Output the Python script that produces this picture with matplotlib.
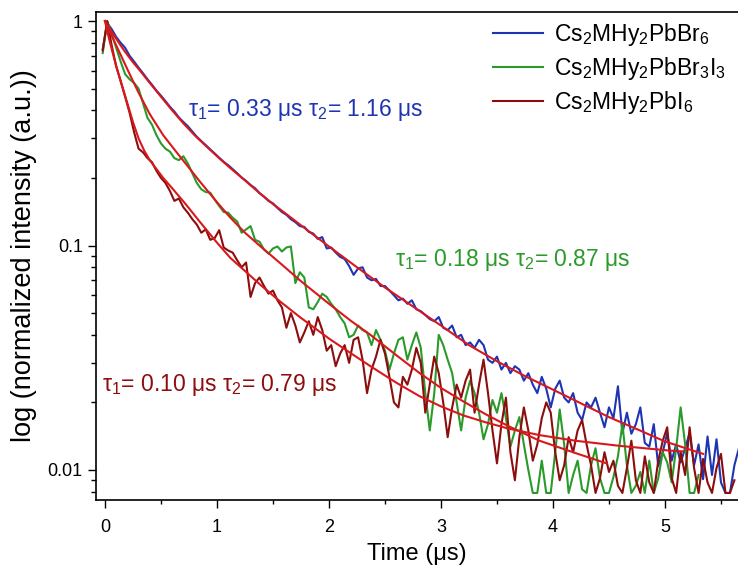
"""TRPL decay of the three Cs2MHy2PbX6 films with bi-exponential fits (log scale)."""

import matplotlib
matplotlib.use("Agg")
import matplotlib.pyplot as plt
import numpy as np

plt.rcParams["font.family"] = ["Liberation Sans", "DejaVu Sans"]
plt.rcParams["mathtext.fontset"] = "custom"
plt.rcParams["mathtext.rm"] = "Liberation Sans"
plt.rcParams["mathtext.it"] = "Liberation Sans:italic"

# time base of the TCSPC traces (us): first channel and channel width
T_START = -0.02
T_STEP = 0.04

LABELS = [r"Cs$_2$MHy$_2$PbBr$_6$", r"Cs$_2$MHy$_2$PbBr$_3$I$_3$", r"Cs$_2$MHy$_2$PbI$_6$"]
COLORS = ["#1d35b5", "#2a9a2a", "#8c0d0d"]
FIT_COLOR = "#d9181c"

# normalized counts, one value per channel
br6 = [
    0.75, 0.98, 0.92, 0.85, 0.80, 0.76, 0.70, 0.66, 0.62, 0.585,
    0.55, 0.52, 0.49, 0.465, 0.44, 0.415, 0.395, 0.372, 0.355, 0.34,
    0.322, 0.305, 0.292, 0.28, 0.268, 0.257, 0.246, 0.236, 0.228, 0.219,
    0.21, 0.201, 0.194, 0.186, 0.18, 0.171, 0.165, 0.158, 0.154, 0.147,
    0.141, 0.137, 0.131, 0.127, 0.122, 0.121, 0.115, 0.113, 0.107, 0.109,
    0.097, 0.098, 0.093, 0.089, 0.087, 0.081, 0.074, 0.079, 0.080, 0.072,
    0.070, 0.071, 0.066, 0.066, 0.063, 0.060, 0.057, 0.058, 0.055, 0.057,
    0.052, 0.051, 0.049, 0.047, 0.046, 0.048, 0.043, 0.042, 0.044, 0.039,
    0.040, 0.036, 0.037, 0.035, 0.038, 0.036, 0.031, 0.030, 0.032, 0.028,
    0.030, 0.027, 0.029, 0.028, 0.025, 0.027, 0.024, 0.022, 0.026, 0.023,
    0.019, 0.023, 0.025, 0.021, 0.020, 0.022, 0.018, 0.0167, 0.020, 0.019,
    0.021, 0.018, 0.0155, 0.019, 0.017, 0.0236, 0.0146, 0.018, 0.0145, 0.016,
    0.019, 0.0132, 0.0127, 0.016, 0.0104, 0.012, 0.0146, 0.011, 0.013, 0.0108,
    0.0125, 0.0146, 0.0105, 0.013, 0.0091, 0.0141, 0.0095, 0.0137, 0.0088, 0.0079,
    0.0079, 0.0105, 0.0125,
]
br3i3 = [
    0.72, 1.0, 0.88, 0.76, 0.66, 0.58, 0.55, 0.53, 0.50, 0.43,
    0.37, 0.345, 0.31, 0.285, 0.27, 0.262, 0.245, 0.24, 0.25, 0.232,
    0.21, 0.19, 0.178, 0.173, 0.172, 0.16, 0.15, 0.141, 0.14, 0.133,
    0.128, 0.114, 0.118, 0.122, 0.106, 0.104, 0.096, 0.092, 0.097, 0.099,
    0.094, 0.098, 0.099, 0.068, 0.076, 0.072, 0.053, 0.052, 0.056, 0.061,
    0.059, 0.055, 0.052, 0.048, 0.045, 0.039, 0.040, 0.044, 0.042, 0.041,
    0.036, 0.042, 0.038, 0.034, 0.028, 0.033, 0.038, 0.039, 0.031, 0.036,
    0.041, 0.035, 0.022, 0.015, 0.022, 0.040, 0.036, 0.031, 0.027, 0.020,
    0.015, 0.021, 0.025, 0.022, 0.018, 0.0137, 0.016, 0.0205, 0.018, 0.022,
    0.017, 0.0127, 0.015, 0.0172, 0.013, 0.010, 0.0079, 0.0079, 0.011, 0.0079,
    0.0079, 0.012, 0.0186, 0.013, 0.0079, 0.0095, 0.011, 0.0082, 0.0079, 0.0105,
    0.0125, 0.0092, 0.0079, 0.0079, 0.0093, 0.0115, 0.016, 0.0105, 0.0079, 0.0085,
    0.0098, 0.0079, 0.011, 0.0079, 0.0092, 0.012, 0.0108, 0.0088, 0.0125, 0.019,
    0.013, 0.0079, 0.0079, 0.0095,
]
i6 = [
    0.74, 1.0, 0.78, 0.63, 0.54, 0.46, 0.39, 0.32, 0.27, 0.26,
    0.245, 0.235, 0.215, 0.20, 0.19, 0.175, 0.158, 0.162, 0.148, 0.14,
    0.131, 0.124, 0.114, 0.118, 0.106, 0.108, 0.117, 0.098, 0.095, 0.093,
    0.086, 0.080, 0.084, 0.059, 0.068, 0.072, 0.066, 0.061, 0.063, 0.057,
    0.053, 0.043, 0.050, 0.044, 0.037, 0.041, 0.046, 0.040, 0.048, 0.042,
    0.034, 0.036, 0.029, 0.033, 0.036, 0.030, 0.038, 0.039, 0.031, 0.022,
    0.028, 0.032, 0.038, 0.033, 0.026, 0.020, 0.019, 0.026, 0.024, 0.028,
    0.035, 0.030, 0.018, 0.024, 0.032, 0.027, 0.020, 0.014, 0.019, 0.024,
    0.021, 0.025, 0.028, 0.018, 0.024, 0.031, 0.022, 0.015, 0.0107, 0.016,
    0.021, 0.012, 0.009, 0.014, 0.019, 0.015, 0.011, 0.013, 0.017, 0.020,
    0.018, 0.012, 0.009, 0.0105, 0.014, 0.012, 0.015, 0.0167, 0.013, 0.0105,
    0.0079, 0.0092, 0.012, 0.0098, 0.011, 0.0085, 0.0079, 0.0102, 0.0135, 0.009,
    0.0079, 0.0115, 0.0088, 0.0079, 0.011, 0.0135, 0.0155, 0.0092, 0.0079, 0.012,
    0.0095, 0.0155, 0.0102, 0.0079, 0.0112, 0.0088, 0.0079, 0.0102, 0.0118, 0.0079,
    0.0079, 0.009,
]

# bi-exponential fit curves
fit_br6_t = [0, 0.05, 0.1, 0.17, 0.25, 0.32, 0.4, 0.5, 0.6, 0.7, 0.8, 0.9, 1.0, 1.12,
             1.25, 1.37, 1.5, 1.62, 1.75, 2.0, 2.25, 2.5, 2.75, 3.0, 3.25, 3.5, 3.75,
             4.0, 4.25, 4.5, 4.75, 5.0, 5.25, 5.34]
fit_br6 = [1.0, 0.91, 0.834, 0.74, 0.655, 0.595, 0.53, 0.46, 0.40, 0.35, 0.31, 0.278,
           0.25, 0.221, 0.195, 0.173, 0.153, 0.138, 0.123, 0.099, 0.080, 0.065, 0.0535,
           0.044, 0.036, 0.0305, 0.0262, 0.0228, 0.0198, 0.0172, 0.0152, 0.0134, 0.0122,
           0.0118]
fit_br3i3_t = [0, 0.05, 0.1, 0.15, 0.2, 0.25, 0.3, 0.4, 0.52, 0.64, 0.75, 0.85, 1.0,
               1.12, 1.25, 1.4, 1.57, 1.74, 2.0, 2.2, 2.37, 2.6, 2.81, 3.0, 3.2, 3.4,
               3.6, 3.88, 4.2, 4.48]
fit_br3i3 = [1.0, 0.88, 0.78, 0.69, 0.61, 0.54, 0.48, 0.385, 0.31, 0.26, 0.222, 0.192,
             0.156, 0.133, 0.114, 0.098, 0.083, 0.070, 0.055, 0.046, 0.040, 0.0325,
             0.027, 0.0232, 0.0202, 0.0177, 0.0157, 0.0135, 0.0119, 0.0107]
fit_i6_t = [0, 0.03, 0.06, 0.1, 0.15, 0.2, 0.25, 0.3, 0.35, 0.4, 0.52, 0.6, 0.72, 0.85,
            1.0, 1.12, 1.25, 1.4, 1.57, 1.74, 2.0, 2.2, 2.37, 2.6, 2.81, 3.0, 3.2, 3.4,
            3.6, 3.88, 4.2, 4.6, 5.04, 5.16]
fit_i6 = [1.0, 0.86, 0.75, 0.63, 0.52, 0.43, 0.355, 0.30, 0.265, 0.24, 0.20, 0.18,
          0.153, 0.127, 0.103, 0.088, 0.077, 0.066, 0.056, 0.048, 0.0385, 0.033, 0.029,
          0.0245, 0.0213, 0.0192, 0.0175, 0.0163, 0.0153, 0.0143, 0.0135, 0.0128,
          0.0122, 0.0121]

lifetimes = [("0.33", "1.16"), ("0.18", "0.87"), ("0.10", "0.79")]
# where each lifetime label sits (time, intensity)
label_pos = [(0.74, 0.40), (2.59, 0.0865), (-0.03, 0.0239)]


def main() -> None:
    fig = plt.figure(figsize=(7.38, 5.73), dpi=100)
    ax = fig.add_axes([96 / 738, 73 / 573, 642 / 738, 488 / 573])

    traces = [br6, br3i3, i6]
    for vals, lab, col in zip(traces, LABELS, COLORS):
        t = T_START + T_STEP * np.arange(len(vals))
        ax.plot(t, vals, color=col, lw=1.5, label=lab, zorder=2)

    for ft, fv in [(fit_br6_t, fit_br6), (fit_br3i3_t, fit_br3i3), (fit_i6_t, fit_i6)]:
        ax.plot(ft, fv, color=FIT_COLOR, lw=1.5, zorder=3)

    for (t1, t2), (x, y), col in zip(lifetimes, label_pos, COLORS):
        ax.text(x, y, f"τ$_1$= {t1} μs τ$_2$= {t2} μs", color=col,
                fontsize=16.5, ha="left", va="center")

    ax.set_yscale("log")
    ax.set_ylim(0.00735, 1.097)
    ax.set_xlim(-0.08, 5.652)
    ax.set_xticks([0, 1, 2, 3, 4, 5])
    ax.set_xticks([0.5, 1.5, 2.5, 3.5, 4.5, 5.5], minor=True)
    ax.set_yticks([0.01, 0.1, 1])
    ax.set_yticklabels(["0.01", "0.1", "1"])
    ax.tick_params(which="major", length=6, width=1.0, labelsize=13, direction="out")
    ax.tick_params(which="minor", length=3.5, width=1.0, direction="out")
    ax.tick_params(axis="x", which="minor", length=3)
    ax.yaxis.set_minor_formatter(plt.NullFormatter())
    ax.tick_params(axis="x", pad=8)
    for side in ["left", "bottom", "top"]:
        ax.spines[side].set_linewidth(1.2)
    ax.spines["right"].set_visible(False)

    ax.set_xlabel("Time (μs)", fontsize=17, labelpad=5)
    ax.set_ylabel("log (normalized intensity (a.u.))", fontsize=19.5, labelpad=8)

    ax.legend(loc="upper right", bbox_to_anchor=(0.995, 1.0), frameon=False,
              fontsize=16.5, handlelength=2.2, handletextpad=0.45, labelspacing=0.3,
              borderaxespad=0)

    fig.savefig("out.png", dpi=100)
    plt.close(fig)


if __name__ == "__main__":
    main()
